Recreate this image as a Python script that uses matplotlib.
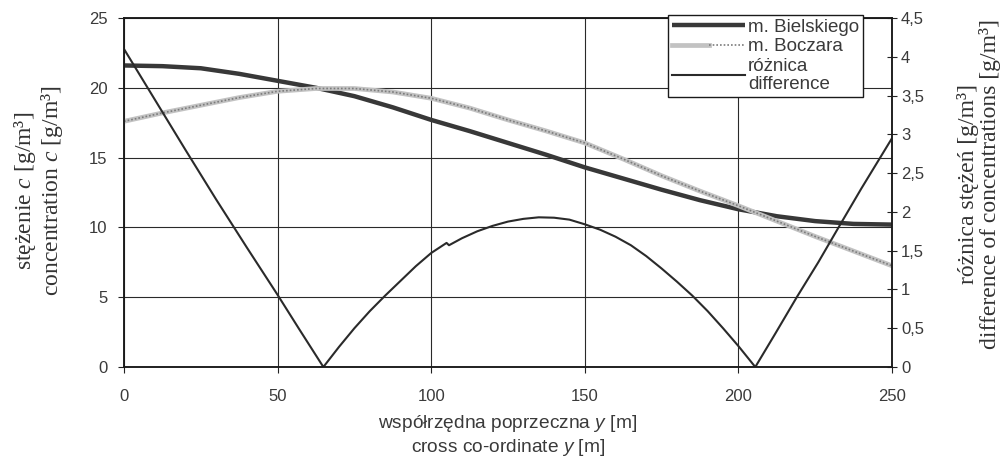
import matplotlib
matplotlib.use('Agg')
import matplotlib.pyplot as plt
from matplotlib.legend_handler import HandlerTuple

plt.rcParams['font.family'] = ['Liberation Sans', 'DejaVu Sans']
plt.rcParams['mathtext.fontset'] = 'custom'
plt.rcParams['mathtext.rm'] = 'Liberation Serif'
plt.rcParams['mathtext.it'] = 'Liberation Serif:italic'
plt.rcParams['mathtext.sf'] = 'Liberation Sans:italic'

# cross co-ordinate y [m]
y_pos = [0, 12.5, 25, 37.5, 50, 62.5, 75, 87.5, 100, 112.5, 125, 137.5,
         150, 162.5, 175, 187.5, 200, 212.5, 225, 237.5, 250]
# concentration, Bielski model [g/m3]
c_bielski = [21.6, 21.55, 21.4, 21.0, 20.5, 20.0, 19.4, 18.6, 17.7, 16.9, 16.05,
             15.2, 14.3, 13.5, 12.7, 11.95, 11.3, 10.8, 10.45, 10.25, 10.2]
# concentration, Boczar model [g/m3]
c_boczar = [17.6, 18.2, 18.75, 19.3, 19.75, 19.95, 19.95, 19.7, 19.25, 18.55, 17.7,
            16.9, 16.05, 14.9, 13.7, 12.6, 11.55, 10.45, 9.35, 8.3, 7.25]

# difference (right axis)
y_diff = [0, 10, 20, 30, 40, 50, 57, 64.9, 70, 75, 80, 85, 90, 95, 100, 105,
          105.8, 110, 115, 120, 125, 130, 135, 140, 145, 150, 155, 160, 165, 170,
          175, 180, 185, 190, 195, 200, 205.5, 212, 219, 226, 232.6, 240, 250]
diff = [4.10, 3.45, 2.80, 2.16, 1.54, 0.93, 0.49, 0.0, 0.26, 0.50, 0.72, 0.92,
        1.11, 1.30, 1.47, 1.60, 1.57, 1.66, 1.75, 1.82, 1.875, 1.91, 1.93, 1.925,
        1.90, 1.84, 1.77, 1.68, 1.57, 1.43, 1.27, 1.10, 0.92, 0.72, 0.50, 0.27,
        0.0, 0.43, 0.90, 1.35, 1.80, 2.30, 2.95]

left_ticks = [0, 5, 10, 15, 20, 25]
right_ticks = [0, 0.5, 1, 1.5, 2, 2.5, 3, 3.5, 4, 4.5]
x_ticks = [0, 50, 100, 150, 200, 250]

W, H = 1001, 457
fig = plt.figure(figsize=(W / 100, H / 100), dpi=100)
ax = fig.add_axes([124 / W, 1 - 367 / H, 768 / W, 349 / H])
ax2 = ax.twinx()

ax.set_xlim(0, 250)
ax.set_ylim(0, 25)
ax2.set_ylim(0, 4.5)

ax.set_xticks(x_ticks)
ax.set_yticks(left_ticks)
ax2.set_yticks(right_ticks)
ax2.set_yticklabels([('%g' % t).replace('.', ',') for t in right_ticks])

ax.grid(True, color='#2a2a2a', lw=0.8)
ax.set_axisbelow(True)

lbl_col = '#3a3a3a'
ax.tick_params(axis='both', labelsize=12, colors='#222222', labelcolor=lbl_col,
               direction='out', length=4, width=0.8)
ax.tick_params(axis='y', pad=8)
ax.tick_params(axis='x', pad=12)
ax2.tick_params(axis='y', labelsize=12, colors='#222222', labelcolor=lbl_col,
                direction='inout', length=7, width=0.8, pad=3)

for a in (ax, ax2):
    for s in a.spines.values():
        s.set_color('#1a1a1a')
        s.set_linewidth(1.1)

l1, = ax.plot(y_pos, c_bielski, color='#383838', lw=3.2, solid_capstyle='butt')
l2a, = ax.plot(y_pos, c_boczar, color='#c2c2c2', lw=3.4)
l2b, = ax.plot(y_pos, c_boczar, color='#7c7c7c', lw=1.2, ls=(0, (1, 1.2)))
l3, = ax2.plot(y_diff, diff, color='#2a2a2a', lw=1.5)

leg = ax2.legend([l1, (l2a, l2b), l3],
                 ['m. Bielskiego', 'm. Boczara', 'różnica\ndifference'],
                 handler_map={tuple: HandlerTuple(ndivide=None, pad=0)},
                 loc='upper right', bbox_to_anchor=(863 / W, 1 - 15 / H),
                 bbox_transform=fig.transFigure, borderaxespad=0,
                 fontsize=13.5, frameon=True, fancybox=False, framealpha=1,
                 edgecolor='#1a1a1a', handlelength=3.9, handletextpad=0.15,
                 labelspacing=0.12, borderpad=0.2)
leg.get_frame().set_linewidth(1.0)
for t in leg.get_texts():
    t.set_color(lbl_col)
    t.set_linespacing(1.15)

serif = ['Liberation Serif', 'DejaVu Serif']
fig.text(38.5 / W, 1 - 191 / H, 'stężenie $c$ [g/m³]\nconcentration $c$ [g/m³]',
         rotation=90, ha='center', va='center', fontsize=17, family=serif,
         color='#333333', linespacing=1.1, multialignment='center')
fig.text(979 / W, 1 - 184 / H, 'różnica stężeń [g/m³]\ndifference of concentrations [g/m³]',
         rotation=90, ha='center', va='center', fontsize=17, family=serif,
         color='#333333', linespacing=1.05, multialignment='center')
fig.text(508 / W, 1 - 436 / H,
         'współrzędna poprzeczna $\\mathsf{y}$ [m]\ncross co-ordinate $\\mathsf{y}$ [m]',
         ha='center', va='center', fontsize=13.8, color=lbl_col, linespacing=1.2,
         multialignment='center')

fig.savefig('out.png', dpi=100)
